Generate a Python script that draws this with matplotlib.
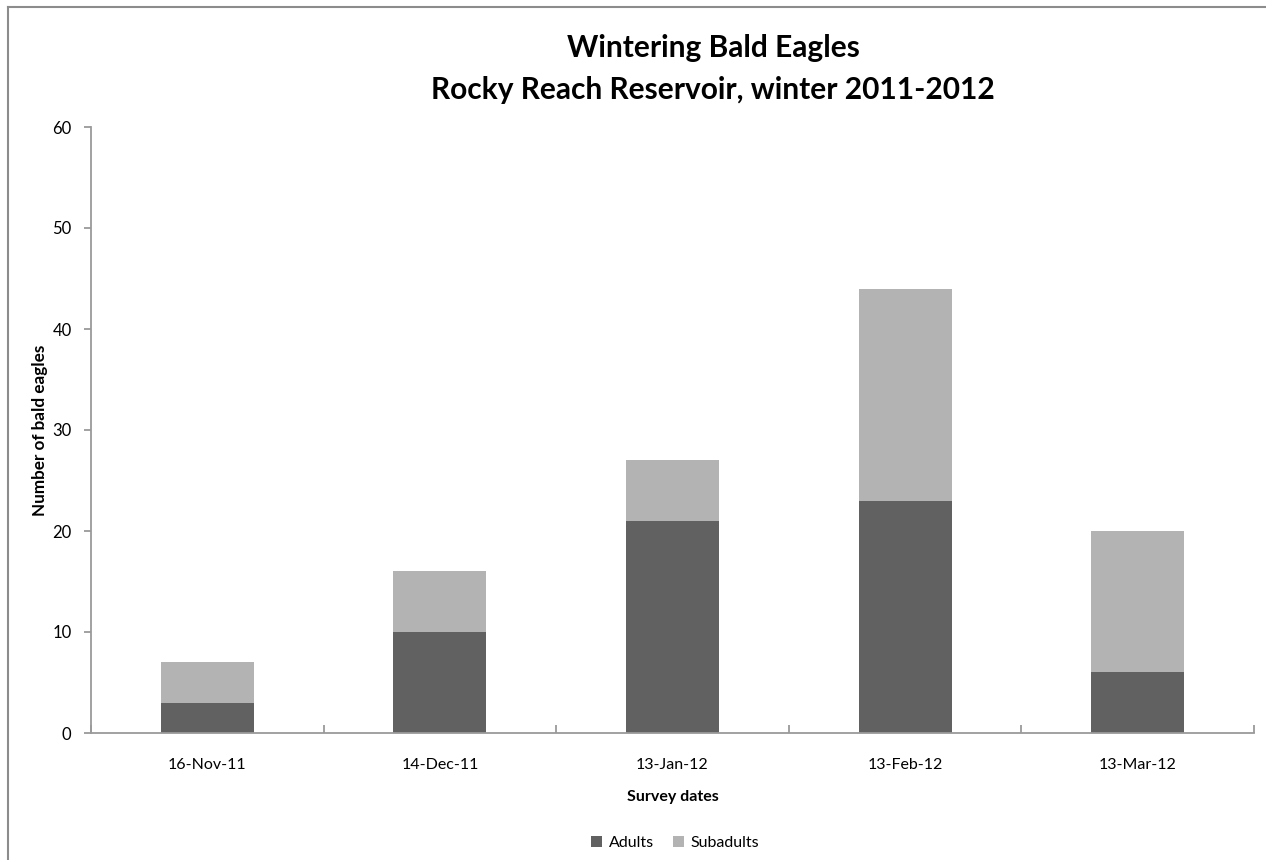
import matplotlib
matplotlib.use("Agg")
import matplotlib.pyplot as plt
from matplotlib.lines import Line2D
import numpy as np

plt.rcParams['font.family'] = ['Lato', 'DejaVu Sans']

dates = ["16-Nov-11", "14-Dec-11", "13-Jan-12", "13-Feb-12", "13-Mar-12"]
adults = [3, 10, 21, 23, 6]
subadults = [4, 6, 6, 21, 14]

fig = plt.figure(figsize=(12.66, 8.6), dpi=100)
W, H = 1266, 860
ax = fig.add_axes([91 / W, 1 - 733 / H, (1254 - 91) / W, (733 - 127) / H])

x = np.arange(len(dates))
c_ad = "#616161"
c_sub = "#b3b3b3"
ax.bar(x, adults, width=0.4, color=c_ad, label="Adults", zorder=2)
ax.bar(x, subadults, width=0.4, bottom=adults, color=c_sub, label="Subadults", zorder=2)

ax.set_xlim(-0.5, len(dates) - 0.5)
ax.set_ylim(0, 60)
ax.set_yticks(range(0, 61, 10))
ax.set_xticks(x)
ax.set_xticklabels(dates)
ax.set_xticks(np.arange(-0.5, len(dates), 1.0), minor=True)

for s in ["top", "right"]:
    ax.spines[s].set_visible(False)
for s in ["left", "bottom"]:
    ax.spines[s].set_color("#9a9a9a")
    ax.spines[s].set_linewidth(1.3)

ax.tick_params(axis="y", direction="out", length=5, color="#9a9a9a", width=1.3,
               labelsize=12, pad=9, labelcolor="#000000")
ax.tick_params(axis="x", which="major", length=0, labelsize=11.5, pad=18)
ax.tick_params(axis="x", which="minor", direction="in", length=6, color="#9a9a9a", width=1.3)

ax.set_ylabel("Number of bald eagles", fontsize=12.3, fontweight="bold", labelpad=3)
ax.set_xlabel("Survey dates", fontsize=11.5, fontweight="bold", labelpad=13)

fig.text(713 / W, 1 - 48 / H, "Wintering Bald Eagles", ha="center", va="center",
         fontsize=21.5, fontweight="bold")
fig.text(713 / W, 1 - 90 / H, "Rocky Reach Reservoir, winter 2011-2012", ha="center",
         va="center", fontsize=21.5, fontweight="bold")

fig.legend(loc="center", bbox_to_anchor=(675 / W, 1 - 843 / H), ncol=2, frameon=False,
           fontsize=11.5, handlelength=0.7, handleheight=0.7, columnspacing=1.2,
           handletextpad=0.4)

# outer chart border (top and left visible)
fig.add_artist(Line2D([8 / W, 1.0], [1 - 6.5 / H, 1 - 6.5 / H], transform=fig.transFigure,
                      color="#8c8c8c", linewidth=1.5))
fig.add_artist(Line2D([8 / W, 8 / W], [0, 1 - 6.5 / H], transform=fig.transFigure,
                      color="#8c8c8c", linewidth=1.5))

fig.savefig("out.png", dpi=100)
